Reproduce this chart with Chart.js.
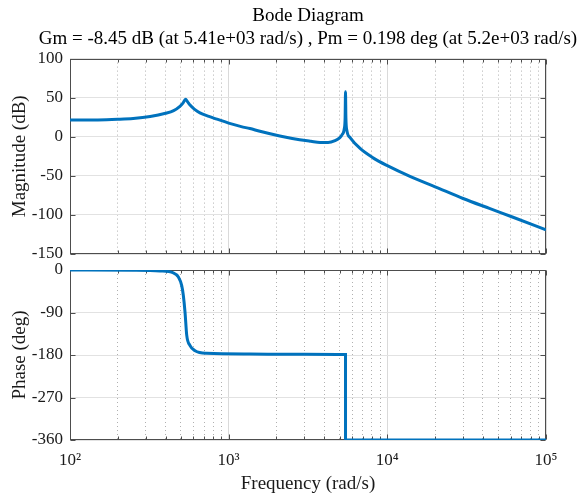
<!DOCTYPE html>
<html>
<head>
<meta charset="utf-8">
<script src="https://cdn.jsdelivr.net/npm/chart.js@4.4.1/dist/chart.umd.min.js"></script>
<style>
  html, body { margin: 0; padding: 0; background: #fff; }
  #wrap { position: relative; width: 578px; height: 495px; overflow: hidden; }
  .box { position: absolute; left: 0; width: 578px; }
  #magBox { top: 0; height: 275px; }
  #phaseBox { top: 240px; height: 255px; }
</style>
</head>
<body>
<div id="wrap">
  <div class="box" id="magBox"><canvas id="magChart" width="578" height="275"></canvas></div>
  <div class="box" id="phaseBox"><canvas id="phaseChart" width="578" height="255"></canvas></div>
</div>
<script>
// values (frequency in rad/s)
const magFreq = [100, 150, 200, 250, 320, 400, 450, 493, 515, 535, 550, 571, 610, 659, 750, 844,
  1000, 1200, 1362, 1574, 2100, 2800, 3300, 3765, 4230, 4680, 5000, 5200, 5350, 5420, 5450,
  5480, 5560, 5825, 6735, 8130, 10000, 14000, 20000, 30000, 44400, 62000, 100000];
const magDb = [21.5, 21.6, 22.3, 23.3, 25.8, 30, 33.5, 39, 43, 48, 45, 40.5, 35, 30.5, 26, 22.5,
  17.5, 13, 10.5, 7, 1, -3.8, -5.8, -7.2, -7.3, -5, -1.5, 3, 10, 25, 57.5,
  25, 8, -1, -15, -27, -37, -51, -64, -79, -92, -103, -119];

const phaseFreq = [100, 250, 369, 448, 482, 506, 518, 531, 544, 571, 614, 727, 1361, 3000, 5450, 5451, 100000];
const phaseDeg = [0, -0.5, -2, -6, -15, -33, -54, -90, -138, -160, -171, -176.5, -178, -178.5, -179, -360, -360];

const magTicks = [100, 50, 0, -50, -100, -150];
const phaseTicks = [0, -90, -180, -270, -360];
const decadeLabels = { 100: '10²', 1000: '10³', 10000: '10⁴', 100000: '10⁵' };
const titleLines = ['Bode Diagram', 'Gm = -8.45 dB (at 5.41e+03 rad/s) , Pm = 0.198 deg (at 5.2e+03 rad/s)'];

const xTickValues = [];
[100, 1000, 10000].forEach(d => { for (let m = 1; m < 10; m++) xTickValues.push(d * m); });
xTickValues.push(100000);

const serif = '"Liberation Serif", "Times New Roman", serif';
const textColor = '#1a1a1a';
const lineColor = '#0072BD';

const isDecade = v => Math.abs(Math.log10(v) - Math.round(Math.log10(v))) < 1e-9;

// box round the axes with inward tick marks, like matlab
const frame = {
  id: 'frame',
  beforeDatasetsDraw(chart) {
    const { ctx, chartArea: a } = chart;
    const xs = chart.scales.x, ys = chart.scales.y;
    const L = Math.round(a.left) + 0.5, R = Math.round(a.right) - 0.5;
    const T = Math.round(a.top) + 0.5, B = Math.round(a.bottom) - 0.5;
    ctx.save();
    ctx.strokeStyle = '#4d4d4d';
    ctx.lineWidth = 1;
    ctx.beginPath();
    xs.ticks.forEach(t => {
      const px = Math.round(xs.getPixelForValue(t.value)) + 0.5;
      const len = isDecade(t.value) ? 5 : 3;
      ctx.moveTo(px, T); ctx.lineTo(px, T + len);
      ctx.moveTo(px, B); ctx.lineTo(px, B - len);
    });
    ys.ticks.forEach(t => {
      const py = Math.round(ys.getPixelForValue(t.value)) + 0.5;
      ctx.moveTo(L, py); ctx.lineTo(L + 5, py);
      ctx.moveTo(R, py); ctx.lineTo(R - 5, py);
    });
    ctx.stroke();
    ctx.strokeRect(L, T, R - L, B - T);
    ctx.restore();
  }
};

// the title box is only as wide as the plot, which squeezes the long line;
// widen it round the plot centre so the text keeps its natural width
const wideTitle = {
  id: 'wideTitle',
  afterLayout(chart) {
    const t = chart.titleBlock;
    if (!t) return;
    const mid = (chart.chartArea.left + chart.chartArea.right) / 2;
    t.left = mid - 300;
    t.right = mid + 300;
    t.width = 600;
  }
};

function xScale(showLabels) {
  return {
    type: 'logarithmic',
    min: 100,
    max: 100000,
    afterBuildTicks: s => { s.ticks = xTickValues.map(v => ({ value: v, major: isDecade(v) })); },
    afterFit: s => { s.height = showLabels ? 55 : 21; },
    ticks: {
      display: showLabels,
      autoSkip: false,
      maxRotation: 0,
      padding: 10,
      color: textColor,
      font: { family: serif, size: 17 },
      callback: v => decadeLabels[v] || ''
    },
    grid: {
      drawTicks: false,
      color: c => (c.tick && isDecade(c.tick.value)) ? '#dadada' : '#b0b0b0'
    },
    border: {
      display: false,
      dash: c => (c.tick && !isDecade(c.tick.value)) ? [1, 3] : []
    },
    title: {
      display: showLabels,
      text: 'Frequency (rad/s)',
      color: textColor,
      font: { family: serif, size: 19 },
      padding: { top: 0, bottom: 0 }
    }
  };
}

function yScale(min, max, tickList, label) {
  return {
    min: min,
    max: max,
    afterBuildTicks: s => { s.ticks = tickList.map(v => ({ value: v })); },
    afterFit: s => { s.width = 70; },
    ticks: { color: textColor, font: { family: serif, size: 17 }, padding: 7 },
    grid: { drawTicks: false, color: '#e2e2e2' },
    border: { display: false },
    title: {
      display: true,
      text: label,
      color: textColor,
      font: { family: serif, size: 19 },
      padding: { top: 9, bottom: 0 }
    }
  };
}

function lineSet(xs, ys) {
  return {
    data: xs.map((f, i) => ({ x: f, y: ys[i] })),
    borderColor: lineColor,
    borderWidth: 3,
    pointRadius: 0,
    cubicInterpolationMode: 'monotone',
    fill: false
  };
}

new Chart(document.getElementById('magChart'), {
  type: 'line',
  data: { datasets: [lineSet(magFreq, magDb)] },
  options: {
    responsive: false,
    animation: false,
    layout: { padding: { left: 0, right: 32, top: 0, bottom: 0 } },
    plugins: {
      legend: { display: false },
      tooltip: { enabled: false },
      title: {
        display: true,
        text: titleLines,
        fullSize: false,
        color: '#000',
        font: { family: serif, size: 19, weight: 'normal' },
        padding: { top: 5, bottom: 8 }
      }
    },
    scales: {
      x: xScale(false),
      y: yScale(-150, 100, magTicks, 'Magnitude (dB)')
    }
  },
  plugins: [frame, wideTitle]
});

new Chart(document.getElementById('phaseChart'), {
  type: 'line',
  data: { datasets: [lineSet(phaseFreq, phaseDeg)] },
  options: {
    responsive: false,
    animation: false,
    layout: { padding: { left: 0, right: 32, top: 30, bottom: 0 } },
    plugins: {
      legend: { display: false },
      tooltip: { enabled: false }
    },
    scales: {
      x: xScale(true),
      y: yScale(-360, 0, phaseTicks, 'Phase (deg)')
    }
  },
  plugins: [frame]
});
</script>
</body>
</html>
